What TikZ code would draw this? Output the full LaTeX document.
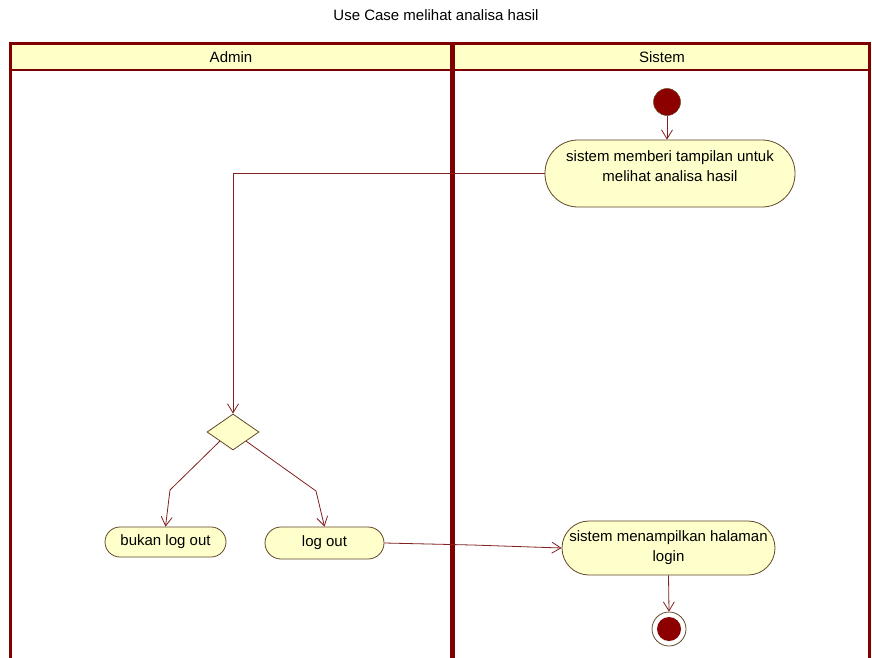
\documentclass[tikz,border=0pt]{standalone}
\usepackage{fontspec}
\setmainfont{Liberation Sans}
\usetikzlibrary{arrows.meta,shapes.geometric,calc}
\definecolor{lane}{RGB}{128,0,0}
\definecolor{head}{RGB}{255,255,200}
\definecolor{nfill}{RGB}{255,255,204}
\definecolor{nline}{RGB}{96,72,40}
\definecolor{conn}{RGB}{128,32,32}
\definecolor{dot}{RGB}{140,0,0}
\begin{document}
\begin{tikzpicture}[x=1pt,y=-1pt,
  font=\fontsize{15}{20}\selectfont,
  act/.style={draw=nline, fill=nfill, line width=0.8pt, inner sep=0pt, align=center},
  arr/.style={draw=conn, line width=0.8pt, -{Straight Barb[length=9pt,width=11pt]}},
  lanebox/.style={draw=lane}]
\useasboundingbox (0,0) rectangle (872,658);
% title
\node (title) at (436,15) {Use Case melihat analisa hasil};
% swimlanes
\fill[head] (10,44) rectangle (869,70);
\draw[lanebox, line width=3pt] (10,700) -- (10,44) -- (869,44) -- (869,700);
\draw[lanebox, line width=2pt] (10,70) -- (869,70);
\draw[lanebox, line width=5pt] (452,44) -- (452,700);
\node (hadmin) at (231,57) {Admin};
\node (hsistem) at (662,57) {Sistem};
% nodes
\node[circle, fill=dot, draw=nline, line width=0.5pt, minimum size=27pt, inner sep=0pt] (init) at (667,102) {};
\node[act, minimum width=250pt, minimum height=67pt, rounded corners=33pt] (a1) at (670,173.5) {sistem memberi tampilan untuk\\melihat analisa hasil\rule[-14pt]{0pt}{14pt}};
\node[diamond, act, minimum width=52pt, minimum height=36pt] (d) at (233,432) {};
\node[act, minimum width=121pt, minimum height=30pt, rounded corners=15pt] (bl) at (165.5,542) {bukan log out};
\node[act, minimum width=119pt, minimum height=32pt, rounded corners=16pt] (lo) at (324.5,543) {log out};
\node[act, minimum width=213pt, minimum height=54pt, rounded corners=27pt] (a3) at (668.5,548) {sistem menampilkan halaman\\login};
\node[circle, draw=nline, fill=white, line width=0.8pt, minimum size=34pt, inner sep=0pt] (fin) at (669,629) {};
\node[circle, fill=dot, minimum size=24pt, inner sep=0pt] (finin) at (fin) {};
% connectors
\coordinate (c1) at (170,490);
\coordinate (c2) at (316,491);
\coordinate (c3) at (472,545);
\draw[arr] (init.south) -- (init.south |- a1.north);
\draw[arr] (a1.west) -| (d.north);
\draw[arr] (d.south west) -- (c1) -- (bl.north);
\draw[arr] (d.south east) -- (c2) -- (lo.north);
\draw[arr] (lo.east) -- (c3) -- (a3.west);
\draw[arr] (a3.south) -- (fin.north);
\end{tikzpicture}
\end{document}
